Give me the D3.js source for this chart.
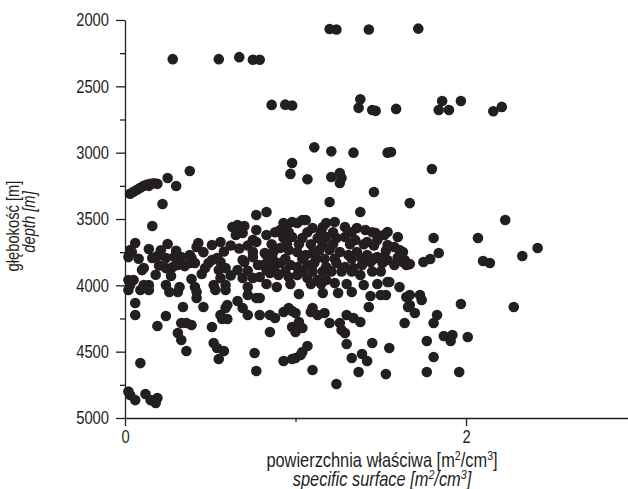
<!DOCTYPE html>
<html>
<head>
<meta charset="utf-8">
<script src="https://cdn.jsdelivr.net/npm/d3@7"></script>
<style>
  body { margin: 0; background: #fff; }
  svg text { font-family: "Liberation Sans", Arial, sans-serif; fill: #231f20; }
</style>
</head>
<body>
<svg id="chart" width="628" height="489"></svg>
<script>
// [specific surface m2/cm3, depth m]
const shallowPts = [
  [0.28, 2295], [0.55, 2295], [0.67, 2280], [0.75, 2300], [0.79, 2300],
  [1.20, 2068], [1.24, 2072], [1.43, 2072], [1.72, 2065],
  [0.86, 2640], [0.94, 2638], [0.98, 2645],
  [1.38, 2598], [1.37, 2662], [1.45, 2678], [1.47, 2685], [1.59, 2670],
  [1.86, 2610], [1.84, 2678], [1.90, 2678], [1.97, 2610],
  [2.16, 2688], [2.21, 2655],
  [1.11, 2960], [1.21, 2990], [1.34, 3000], [1.54, 3000], [1.56, 2995]
];

const upperPts = [
  [0.03, 3310], [0.05, 3295], [0.07, 3280], [0.09, 3265], [0.11, 3250],
  [0.13, 3240], [0.15, 3235], [0.17, 3230], [0.14, 3250], [0.19, 3235],
  [0.38, 3138], [0.25, 3191], [0.30, 3251], [0.22, 3387], [0.16, 3553],
  [0.98, 3078], [0.97, 3160], [1.07, 3200], [1.21, 3183], [1.26, 3153],
  [1.27, 3191], [1.26, 3229], [1.46, 3297], [1.20, 3372], [1.38, 3447],
  [1.67, 3380], [0.83, 3447], [1.80, 3123]
];

const rightPts = [
  [2.23, 3508], [1.81, 3643], [2.07, 3643], [1.84, 3756], [1.79, 3802],
  [1.75, 3824], [1.67, 3840], [2.10, 3817], [2.14, 3832], [2.33, 3779],
  [2.42, 3719]
];

const leftCluster = [
  [0.77, 3470], [0.77, 3583], [0.63, 3560], [0.66, 3545], [0.70, 3553],
  [0.69, 3606], [0.65, 3621], [0.75, 3658], [0.77, 3673],
  [0.03, 3734], [0.06, 3681], [0.02, 3787], [0.04, 3749],
  [0.14, 3726], [0.25, 3689], [0.43, 3681], [0.42, 3711], [0.51, 3696], [0.56, 3673],
  [0.16, 3794], [0.19, 3779], [0.24, 3794],
  [0.29, 3787], [0.33, 3787], [0.38, 3772], [0.39, 3794],
  [0.24, 3870], [0.28, 3862], [0.31, 3847], [0.35, 3855], [0.38, 3832],
  [0.11, 3870], [0.10, 3885], [0.41, 3832],
  [0.49, 3832], [0.51, 3809], [0.54, 3794], [0.56, 3824], [0.59, 3870], [0.55, 3885],
  [0.66, 3885], [0.70, 3824], [0.75, 3787], [0.78, 3847],
  [0.56, 3945], [0.39, 3952], [0.69, 3945],
  [0.02, 3960], [0.05, 3960], [0.03, 3998], [0.11, 3998], [0.14, 3998],
  [0.24, 3998], [0.32, 4013], [0.41, 4013], [0.52, 3998], [0.59, 3998], [0.72, 4013], [0.75, 3945],
  [0.83, 3621], [0.75, 3749], [0.69, 3809], [0.79, 4095],
  [0.21, 3735], [0.30, 3740], [0.46, 3750], [0.58, 3745], [0.62, 3700], [0.67, 3722],
  [0.72, 3700], [0.18, 3920], [0.27, 3930], [0.45, 3915], [0.62, 3925], [0.72, 3890],
  [0.08, 3800], [0.47, 3870], [0.20, 3850]
];

const mainCluster = [
  [0.91, 3583], [0.95, 3545], [1.01, 3530], [1.06, 3508], [1.10, 3568], [1.16, 3560],
  [1.18, 3530], [1.23, 3523], [1.29, 3560], [1.36, 3568], [1.41, 3583], [1.47, 3606],
  [1.54, 3598], [1.60, 3636],
  [0.93, 3643], [0.98, 3636], [1.04, 3643], [1.13, 3643], [1.18, 3636], [1.24, 3643],
  [1.29, 3636], [1.35, 3658], [1.42, 3673], [1.48, 3658], [1.54, 3696], [1.58, 3711], [1.63, 3749],
  [0.83, 3772], [0.87, 3749], [0.91, 3719], [0.96, 3734], [1.01, 3749], [1.06, 3772],
  [1.10, 3756], [1.14, 3734], [1.20, 3734], [1.26, 3749], [1.31, 3772], [1.36, 3749],
  [1.42, 3772], [1.48, 3787], [1.54, 3809], [1.58, 3847], [1.63, 3824],
  [0.81, 3847], [0.86, 3862], [0.91, 3832], [0.97, 3847], [1.01, 3862], [1.07, 3847],
  [1.11, 3832], [1.18, 3862], [1.24, 3832], [1.29, 3862], [1.34, 3870], [1.39, 3847],
  [1.44, 3824], [1.51, 3832],
  [0.79, 3937], [0.85, 3907], [0.90, 3922], [0.96, 3937], [1.01, 3922], [1.07, 3945],
  [1.13, 3960], [1.18, 3960], [1.23, 3983], [1.38, 3922], [1.40, 3998], [1.55, 3975], [1.61, 4013],
  [0.89, 4013],
  [0.93, 3530], [0.98, 3523], [1.04, 3508], [0.91, 3598],
  [0.82, 3756], [0.87, 3809], [0.83, 3885],
  [1.61, 3734], [1.64, 3809], [1.65, 3847], [1.54, 3975],
  [0.88, 3600], [0.96, 3600], [1.07, 3600], [1.15, 3600], [1.22, 3600], [1.33, 3600],
  [1.45, 3600], [1.52, 3620],
  [0.86, 3690], [0.95, 3690], [1.02, 3690], [1.09, 3690], [1.16, 3690], [1.22, 3690],
  [1.32, 3690], [1.40, 3690], [1.46, 3700], [1.53, 3740],
  [0.84, 3800], [0.94, 3800], [1.04, 3800], [1.12, 3800], [1.17, 3800], [1.23, 3800],
  [1.33, 3800], [1.39, 3800], [1.46, 3800], [1.52, 3790], [1.60, 3790],
  [0.88, 3895], [0.94, 3895], [1.04, 3895], [1.10, 3895], [1.16, 3895], [1.21, 3895],
  [1.27, 3895], [1.33, 3895], [1.45, 3895], [1.50, 3895],
  [0.83, 3990], [0.97, 3990], [1.09, 3990], [1.15, 3990], [1.30, 3990], [1.48, 3990]
];

const deepPts = [
  [0.06, 4133], [0.06, 4224], [0.24, 4231], [0.19, 4306], [0.34, 4163], [0.42, 4095],
  [0.46, 4163], [0.33, 4284], [0.36, 4284], [0.39, 4299], [0.31, 4359], [0.33, 4412],
  [0.36, 4495], [0.51, 4314], [0.52, 4435], [0.54, 4472], [0.58, 4495], [0.55, 4555],
  [0.56, 4224], [0.59, 4171], [0.60, 4148], [0.57, 4254], [0.60, 4254], [0.66, 4118],
  [0.69, 4171], [0.72, 4224], [0.76, 4510], [0.77, 4646], [0.09, 4586],
  [0.03, 4827], [0.06, 4865], [0.12, 4819], [0.15, 4865], [0.18, 4887], [0.19, 4850], [0.02, 4800],
  [0.02, 4035], [0.09, 4035], [0.14, 4035], [0.26, 4050], [0.31, 4050], [0.42, 4050],
  [0.53, 4035], [0.59, 4035], [0.72, 4073], [0.77, 4095],
  [1.02, 4065], [1.16, 4058], [1.25, 4058], [1.33, 4050], [1.44, 4080], [1.50, 4073],
  [1.53, 4073], [1.43, 4163],
  [0.79, 4224], [0.85, 4224], [0.88, 4246], [0.93, 4201], [0.96, 4171], [0.98, 4193],
  [1.00, 4209], [1.02, 4276],
  [0.85, 4352], [0.98, 4314], [1.00, 4352], [1.04, 4322],
  [1.09, 4201], [1.10, 4171], [1.13, 4224], [1.17, 4209], [1.20, 4284],
  [1.26, 4284], [1.27, 4337], [1.29, 4360], [1.30, 4224], [1.34, 4246], [1.38, 4276],
  [1.30, 4442], [1.45, 4435], [1.55, 4472],
  [1.07, 4457], [1.04, 4503], [1.03, 4525], [1.00, 4548], [0.98, 4555],
  [0.93, 4570], [1.10, 4638], [1.33, 4548], [1.39, 4518], [1.42, 4570], [1.37, 4653],
  [1.24, 4744], [1.53, 4669],
  [1.65, 4088], [1.66, 4163], [1.64, 4284],
  [1.67, 4073], [1.73, 4073], [1.74, 4111], [1.67, 4148], [1.70, 4209], [1.97, 4141],
  [2.28, 4163], [1.83, 4224], [1.81, 4284], [1.87, 4382], [1.92, 4374], [1.91, 4420],
  [2.01, 4390], [1.77, 4420], [1.81, 4540], [1.77, 4653], [1.96, 4653]
];

const yTicks = d3.range(2000, 5001, 250);
const xTicks = [0, 1, 2];
const xLabelled = [0, 2];

const data = [...shallowPts, ...upperPts, ...rightPts, ...leftCluster, ...mainCluster, ...deepPts];

const svg = d3.select('#chart');
const ink = '#231f20';
const narrow = 0.82; // horizontal squeeze to mimic a condensed face

const x = d3.scaleLinear().domain([0, 2.95]).range([125, 628]);
const y = d3.scaleLinear().domain([2000, 5000]).range([20, 418]);

// points
svg.append('g')
  .selectAll('circle')
  .data(data)
  .join('circle')
  .attr('cx', d => x(d[0]))
  .attr('cy', d => y(d[1]))
  .attr('r', 5.3)
  .attr('fill', ink);

// y axis
const yAxis = svg.append('g')
  .attr('transform', 'translate(125,0)')
  .call(d3.axisLeft(y).tickValues(yTicks).tickSizeOuter(0)
    .tickFormat(d => d % 500 === 0 ? d : ''));
yAxis.selectAll('.tick line').attr('x2', d => d % 500 === 0 ? -9 : -5);
yAxis.selectAll('.tick text')
  .attr('x', -16 / narrow)
  .attr('transform', `scale(${narrow},1)`)
  .style('font-size', '18px');

// x axis
const xAxis = svg.append('g')
  .attr('transform', 'translate(0,418)')
  .call(d3.axisBottom(x).tickValues(xTicks).tickSizeOuter(0)
    .tickFormat(d => xLabelled.includes(d) ? d : ''));
xAxis.selectAll('.tick line').attr('y2', d => xLabelled.includes(d) ? 8 : 4);
xAxis.selectAll('.tick text')
  .attr('y', 12)
  .attr('transform', `scale(${narrow},1)`)
  .style('font-size', '18px');

svg.selectAll('.domain, .tick line').attr('stroke', ink).attr('stroke-width', 1.3);
svg.selectAll('.tick text').attr('fill', ink);
svg.selectAll('g').attr('font-family', null);

// axis titles
function unitTitle(label, ty, italic) {
  const t = svg.append('text')
    .attr('transform', `translate(382,${ty}) scale(${narrow},1)`)
    .attr('text-anchor', 'middle')
    .style('font-size', '20px')
    .style('font-style', italic ? 'italic' : 'normal');
  t.append('tspan').text(label + ' [m');
  t.append('tspan').attr('dy', -7).style('font-size', '13px').text('2');
  t.append('tspan').attr('dy', 7).text('/cm');
  t.append('tspan').attr('dy', -7).style('font-size', '13px').text('3');
  t.append('tspan').attr('dy', 7).text(']');
}
unitTitle('powierzchnia właściwa', 467, false);
unitTitle('specific surface', 486, true);

svg.append('text')
  .attr('transform', `translate(19,226) rotate(-90) scale(${narrow},1)`)
  .attr('text-anchor', 'middle').style('font-size', '18px')
  .text('głębokość [m]');
svg.append('text')
  .attr('transform', `translate(35,222) rotate(-90) scale(${narrow},1)`)
  .attr('text-anchor', 'middle').style('font-size', '18px').style('font-style', 'italic')
  .text('depth [m]');
</script>
</body>
</html>
